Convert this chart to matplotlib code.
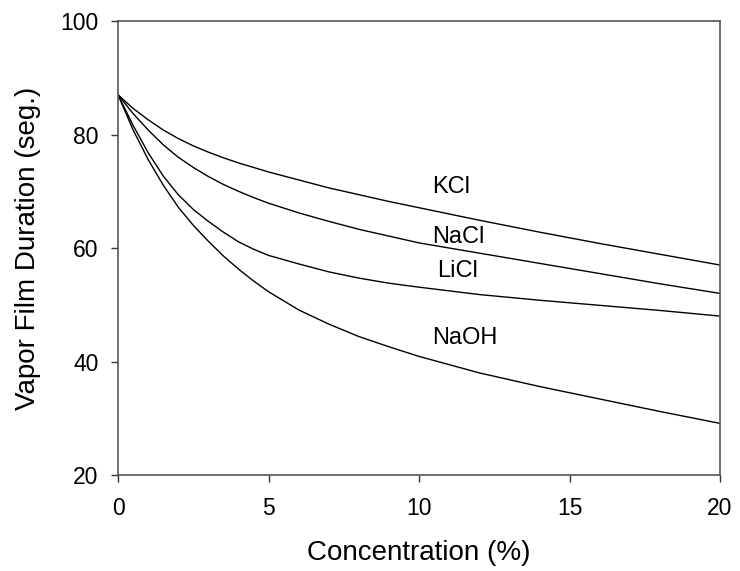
import matplotlib
matplotlib.use("Agg")
import matplotlib.pyplot as plt

plt.rcParams['font.family'] = ['Liberation Sans', 'DejaVu Sans']

concentration = [0, 0.5, 1, 1.5, 2, 2.5, 3, 3.5, 4, 4.5, 5, 6, 7, 8, 9, 10, 12, 14, 16, 18, 20]
kcl = [87, 84.6, 82.6, 80.8, 79.3, 78.0, 76.9, 75.9, 75.0, 74.2, 73.4, 72.0, 70.6, 69.4, 68.2, 67.1, 64.9, 62.8, 60.8, 58.9, 57.0]
nacl = [87, 83.7, 80.8, 78.2, 76.0, 74.2, 72.6, 71.2, 70.0, 68.9, 67.9, 66.2, 64.7, 63.3, 62.1, 60.9, 59.1, 57.3, 55.5, 53.7, 52.0]
licl = [87, 81.6, 76.8, 72.7, 69.4, 66.8, 64.7, 62.8, 61.1, 59.8, 58.7, 57.2, 55.8, 54.7, 53.8, 53.1, 51.8, 50.8, 49.9, 49.0, 48.0]
naoh = [87, 80.8, 75.6, 71.1, 67.2, 64.0, 61.2, 58.6, 56.3, 54.2, 52.3, 49.1, 46.6, 44.4, 42.6, 40.9, 38.0, 35.6, 33.4, 31.2, 29.1]

labels = ["KCl", "NaCl", "LiCl", "NaOH"]
label_x = [10.45, 10.45, 10.6, 10.45]
label_y = [70.8, 61.9, 55.9, 44.1]

x_ticks = [0, 5, 10, 15, 20]
y_ticks = [20, 40, 60, 80, 100]

fig = plt.figure(figsize=(7.40, 5.71), dpi=100)
ax = fig.add_axes([0.1595, 0.1681, 0.8135, 0.7951])

for series in (kcl, nacl, licl, naoh):
    ax.plot(concentration, series, color='black', lw=1.0)

for lab, lx, ly in zip(labels, label_x, label_y):
    ax.text(lx, ly, lab, ha='left', va='center', fontsize=17, color='black')

ax.set_xlim(0, 20)
ax.set_ylim(20, 100)
ax.set_xticks(x_ticks)
ax.set_yticks(y_ticks)
ax.tick_params(direction='out', length=5, width=1.0, labelsize=16.5, colors='#333333', labelcolor='black')
ax.tick_params(axis='x', pad=11)
ax.tick_params(axis='y', pad=9)
for s in ax.spines.values():
    s.set_color('#555555')
    s.set_linewidth(1.2)

ax.set_xlabel("Concentration (%)", fontsize=20, labelpad=14)
ax.set_ylabel("Vapor Film Duration (seg.)", fontsize=20, labelpad=14)

fig.savefig("out.png", dpi=100)
